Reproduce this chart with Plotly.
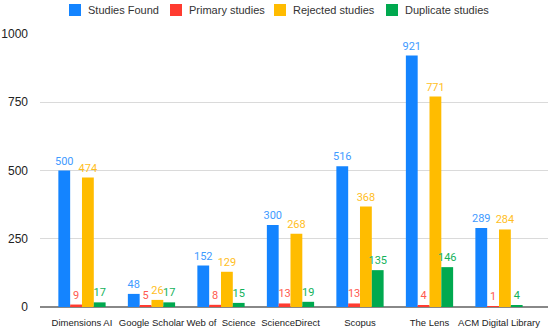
import plotly.graph_objects as go

categories = ["Dimensions AI", "Google Scholar", "Web of  Science", "ScienceDirect",
              "Scopus", "The Lens", "ACM Digital Library"]
studies_found = [500, 48, 152, 300, 516, 921, 289]
primary_studies = [9, 5, 8, 13, 13, 4, 1]
rejected_studies = [474, 26, 129, 268, 368, 771, 284]
duplicate_studies = [17, 17, 15, 19, 135, 146, 4]
y_ticks = [0, 250, 500, 750, 1000]

series = [
    ("Studies Found", studies_found, "#1484FF", "#3F9BFF"),
    ("Primary studies", primary_studies, "#FF3B30", "#FF5A4F"),
    ("Rejected studies", rejected_studies, "#FFBC00", "#FFBE1E"),
    ("Duplicate studies", duplicate_studies, "#00A94F", "#12B25A"),
]

W, H = 550, 330
L, R, T, B = 40, 2, 34, 23
PW, PH = W - L - R, H - T - B

def px_x(px):  # page pixel -> paper x
    return (px - L) / PW

def px_y(py):  # page pixel -> paper y
    return 1 - (py - T) / PH

fig = go.Figure()
for name, vals, col, tcol in series:
    fig.add_trace(go.Bar(
        name=name, x=list(range(len(categories))), y=vals,
        marker=dict(color=col, line=dict(width=0)),
        text=[str(v) for v in vals], textposition="outside",
        textangle=0, constraintext="none",
        textfont=dict(family="Roboto", size=11, color=tcol),
        cliponaxis=False, showlegend=False,
    ))

# custom legend (square + label) laid out like the reference
legend_sq_x = [69, 170, 274, 386]
shapes, annotations = [], []
for (name, _, col, _), sx in zip(series, legend_sq_x):
    shapes.append(dict(type="rect", xref="paper", yref="paper",
                       x0=px_x(sx), x1=px_x(sx + 12), y0=px_y(16), y1=px_y(4),
                       fillcolor=col, line=dict(width=0)))
    annotations.append(dict(xref="paper", yref="paper", x=px_x(sx + 17), y=px_y(10),
                            xanchor="left", yanchor="middle", showarrow=False,
                            text=name, font=dict(size=11, color="#333")))

fig.update_layout(
    width=W, height=H,
    margin=dict(l=L, r=R, t=T, b=B, autoexpand=False),
    paper_bgcolor="white", plot_bgcolor="white",
    barmode="group", bargap=0.32, bargroupgap=0.0,
    uniformtext=dict(minsize=11, mode="show"),
    font=dict(family="Liberation Sans, Arial", size=11, color="#222"),
    showlegend=False, shapes=shapes, annotations=annotations,
)
fig.update_xaxes(
    tickmode="array", tickvals=list(range(len(categories))), ticktext=categories,
    range=[-0.604, 6.705], showgrid=False, showline=False, zeroline=False,
    ticks="", tickangle=0, automargin=False, ticklabelstandoff=8,
    tickfont=dict(size=9.5, color="#222"),
)
fig.update_yaxes(
    range=[0, 1000], tickvals=y_ticks, showgrid=True, gridcolor="#DADADA",
    gridwidth=1, zeroline=True, zerolinecolor="#888", zerolinewidth=1.5,
    ticks="", automargin=False, tickfont=dict(size=12, color="#222"),
    ticklabelstandoff=11,
)
fig.write_html("out.html", config={"displayModeBar": False},
               post_script="document.body.style.margin='0';document.body.style.padding='0';")
